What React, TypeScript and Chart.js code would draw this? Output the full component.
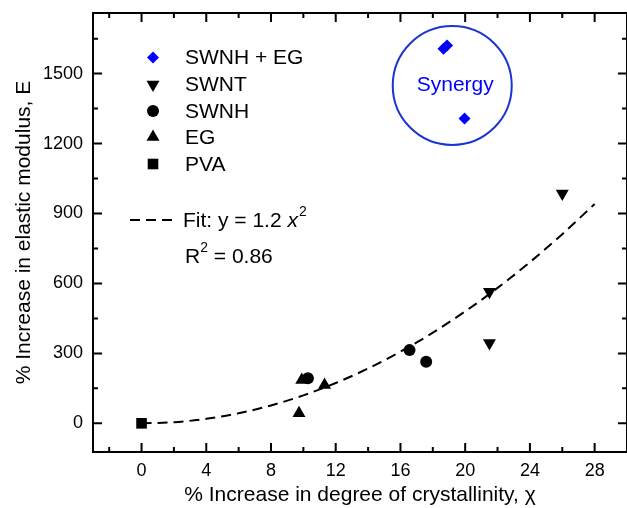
import React, { useEffect, useRef } from 'react';
import { Chart, registerables } from 'chart.js';
import { drawPoint } from 'chart.js/helpers';

Chart.register(...registerables);

const FONT = '"Liberation Sans", Arial, Helvetica, sans-serif';

// ---- data ----
const swnhEgX = [18.66, 18.88, 19.96];
const swnhEgY = [1607, 1621, 1307];
const swntX = [21.5, 21.5, 26.0];
const swntY = [564, 345, 986];
const swnhX = [10.28, 16.56, 17.59];
const swnhY = [193, 314, 264];
const egX = [9.73, 9.9, 11.31];
const egY = [43, 186, 164];
const pvaX = [0];
const pvaY = [0];

// fit curve y = 1.2 x^2 as read at even x values
const fitX = [0, 2, 4, 6, 8, 10, 12, 14, 16, 18, 20, 22, 24, 26, 28];
const fitY = [0, 4.8, 19.2, 43.2, 76.8, 120, 172.8, 235.2, 307.2, 388.8, 480, 580.8, 691.2, 811.2, 940.8];

const synergyX = [19.2];
const synergyY = [1449];
const synergyLabel = 'Synergy';

const xMajorTicks = [0, 4, 8, 12, 16, 20, 24, 28];
const xMinorTicks = [-2, 2, 6, 10, 14, 18, 22, 26];
const yMajorTicks = [0, 300, 600, 900, 1200, 1500];
const yMinorTicks = [150, 450, 750, 1050, 1350, 1650];

const legendLabels = ['SWNH + EG', 'SWNT', 'SWNH', 'EG', 'PVA'];
const fitLabel = 'Fit: y = 1.2 ';
const r2Label = ' = 0.86';

const xTitle = '% Increase in degree of crystallinity, \u03c7';
const yTitle = '% Increase in elastic modulus, E';

const BLUE = '#0000ff';
const CIRCLE_BLUE = '#1a35d0';

const pts = (xs: number[], ys: number[]) => xs.map((x, i) => ({ x, y: ys[i] }));

const legendStyles = [
  { pointStyle: 'rectRot', rotation: 0, radius: 6, color: BLUE },
  { pointStyle: 'triangle', rotation: 180, radius: 7.5, color: '#000' },
  { pointStyle: 'circle', rotation: 0, radius: 6, color: '#000' },
  { pointStyle: 'triangle', rotation: 0, radius: 7.5, color: '#000' },
  { pointStyle: 'rect', rotation: 0, radius: 7.5, color: '#000' },
];

const decorPlugin = {
  id: 'decor',
  afterDraw(chart: any) {
    const { ctx, chartArea } = chart;
    const xs = chart.scales.x;
    const ys = chart.scales.y;
    const { left, right, top, bottom } = chartArea;
    ctx.save();
    ctx.strokeStyle = '#000';
    ctx.lineWidth = 2;
    ctx.strokeRect(left, top, right - left, bottom - top);
    const tick = (vals: number[], len: number) => {
      vals.forEach((v) => {
        const px = xs.getPixelForValue(v);
        ctx.beginPath();
        ctx.moveTo(px, bottom);
        ctx.lineTo(px, bottom - len);
        ctx.moveTo(px, top);
        ctx.lineTo(px, top + len);
        ctx.stroke();
      });
    };
    const tickY = (vals: number[], len: number) => {
      vals.forEach((v) => {
        const py = ys.getPixelForValue(v);
        ctx.beginPath();
        ctx.moveTo(left, py);
        ctx.lineTo(left + len, py);
        ctx.moveTo(right, py);
        ctx.lineTo(right - len, py);
        ctx.stroke();
      });
    };
    tick(xMajorTicks, 9);
    tick(xMinorTicks, 5);
    tickY(yMajorTicks, 9);
    tickY(yMinorTicks, 5);

    // legend
    const lx = 153;
    const tx = 185;
    const rowY = [57.5, 84.5, 111, 137, 164];
    ctx.textBaseline = 'middle';
    ctx.textAlign = 'left';
    legendLabels.forEach((lab, i) => {
      const st = legendStyles[i];
      ctx.fillStyle = st.color;
      drawPoint(ctx, { pointStyle: st.pointStyle, rotation: st.rotation, radius: st.radius, borderWidth: 0 } as any, lx, rowY[i]);
      ctx.fillStyle = '#000';
      ctx.font = `21px ${FONT}`;
      ctx.fillText(lab, tx, rowY[i] + 1);
    });

    // fit legend
    const fy = 220;
    ctx.strokeStyle = '#000';
    ctx.lineWidth = 2;
    ctx.setLineDash([10, 6]);
    ctx.beginPath();
    ctx.moveTo(130, fy);
    ctx.lineTo(174, fy);
    ctx.stroke();
    ctx.setLineDash([]);
    ctx.font = `21px ${FONT}`;
    ctx.fillStyle = '#000';
    ctx.fillText(fitLabel, 183, fy + 1);
    let w = ctx.measureText(fitLabel).width;
    ctx.font = `italic 21px ${FONT}`;
    ctx.fillText('x', 183 + w, fy + 1);
    w += ctx.measureText('x').width;
    ctx.font = `14px ${FONT}`;
    ctx.fillText('2', 183 + w + 1, fy - 8);

    const ry = 256;
    ctx.font = `21px ${FONT}`;
    ctx.fillText('R', 185, ry + 1);
    let w2 = ctx.measureText('R').width;
    ctx.font = `14px ${FONT}`;
    ctx.fillText('2', 185 + w2, ry - 8);
    w2 += ctx.measureText('2').width;
    ctx.font = `21px ${FONT}`;
    ctx.fillText(r2Label, 185 + w2, ry + 1);

    // synergy label
    ctx.fillStyle = BLUE;
    ctx.textAlign = 'center';
    ctx.font = `21px ${FONT}`;
    ctx.fillText(synergyLabel, xs.getPixelForValue(synergyX[0]) + 3, ys.getPixelForValue(synergyY[0]));
    ctx.restore();
  },
};

export default function App() {
  const ref = useRef<HTMLCanvasElement | null>(null);
  useEffect(() => {
    if (!ref.current) return;
    const chart = new Chart(ref.current, {
      type: 'scatter',
      data: {
        datasets: [
          {
            label: 'SWNH + EG',
            data: pts(swnhEgX, swnhEgY),
            pointStyle: 'rectRot',
            pointRadius: 6,
            pointBorderWidth: 0,
            backgroundColor: BLUE,
            borderColor: BLUE,
            order: 1,
          },
          {
            label: 'SWNT',
            data: pts(swntX, swntY),
            pointStyle: 'triangle',
            rotation: 180,
            pointRadius: 7.5,
            pointBorderWidth: 0,
            backgroundColor: '#000',
            borderColor: '#000',
            order: 2,
          },
          {
            label: 'SWNH',
            data: pts(swnhX, swnhY),
            pointStyle: 'circle',
            pointRadius: 6,
            pointBorderWidth: 0,
            backgroundColor: '#000',
            borderColor: '#000',
            order: 3,
          },
          {
            label: 'EG',
            data: pts(egX, egY),
            pointStyle: 'triangle',
            pointRadius: 7.5,
            pointBorderWidth: 0,
            backgroundColor: '#000',
            borderColor: '#000',
            order: 4,
          },
          {
            label: 'PVA',
            data: pts(pvaX, pvaY),
            pointStyle: 'rect',
            pointRadius: 7.5,
            pointBorderWidth: 0,
            backgroundColor: '#000',
            borderColor: '#000',
            order: 5,
          },
          {
            label: 'Fit',
            data: pts(fitX, fitY),
            showLine: true,
            borderColor: '#000',
            borderWidth: 2,
            borderDash: [10, 6],
            pointRadius: 0,
            cubicInterpolationMode: 'monotone',
            fill: false,
            order: 8,
          } as any,
          {
            label: 'Synergy',
            data: pts(synergyX, synergyY),
            pointStyle: 'circle',
            pointRadius: 59.5,
            pointBorderWidth: 2,
            backgroundColor: 'rgba(0,0,0,0)',
            borderColor: CIRCLE_BLUE,
            order: 9,
          },
        ],
      },
      options: {
        animation: false,
        responsive: false,
        maintainAspectRatio: false,
        layout: { autoPadding: false, padding: { top: 13, left: 0, right: 0, bottom: 0 } },
        plugins: {
          legend: { display: false },
          tooltip: { enabled: false },
        },
        scales: {
          x: {
            type: 'linear',
            min: -3,
            max: 30,
            afterBuildTicks: (s: any) => {
              s.ticks = xMajorTicks.map((v) => ({ value: v }));
            },
            afterFit: (s: any) => {
              s.height = 56;
              s.paddingLeft = 0;
              s.paddingRight = 0;
            },
            grid: { display: false, drawTicks: false },
            border: { display: false },
            ticks: {
              color: '#000',
              padding: 8,
              maxRotation: 0,
              autoSkip: false,
              callback: (v: any) => String(v),
              font: { family: FONT, size: 18 },
            },
            title: {
              display: true,
              text: xTitle,
              color: '#000',
              padding: { top: 0, bottom: 0 },
              font: { family: FONT, size: 21 },
            },
          },
          y: {
            type: 'linear',
            min: -123,
            max: 1760,
            afterBuildTicks: (s: any) => {
              s.ticks = yMajorTicks.map((v) => ({ value: v }));
            },
            afterFit: (s: any) => {
              s.width = 93;
              s.paddingTop = 0;
              s.paddingBottom = 0;
            },
            grid: { display: false, drawTicks: false },
            border: { display: false },
            ticks: {
              color: '#000',
              padding: 10,
              autoSkip: false,
              callback: (v: any) => String(v),
              font: { family: FONT, size: 18 },
            },
            title: {
              display: true,
              text: yTitle,
              color: '#000',
              padding: { top: 12, bottom: 0 },
              font: { family: FONT, size: 21 },
            },
          },
        },
      },
      plugins: [decorPlugin],
    } as any);
    return () => chart.destroy();
  }, []);
  return (
    <div style={{ position: 'fixed', left: 0, top: 0, width: 627, height: 508, background: '#fff' }}>
      <canvas ref={ref} width={627} height={508} style={{ display: 'block' }} />
    </div>
  );
}
